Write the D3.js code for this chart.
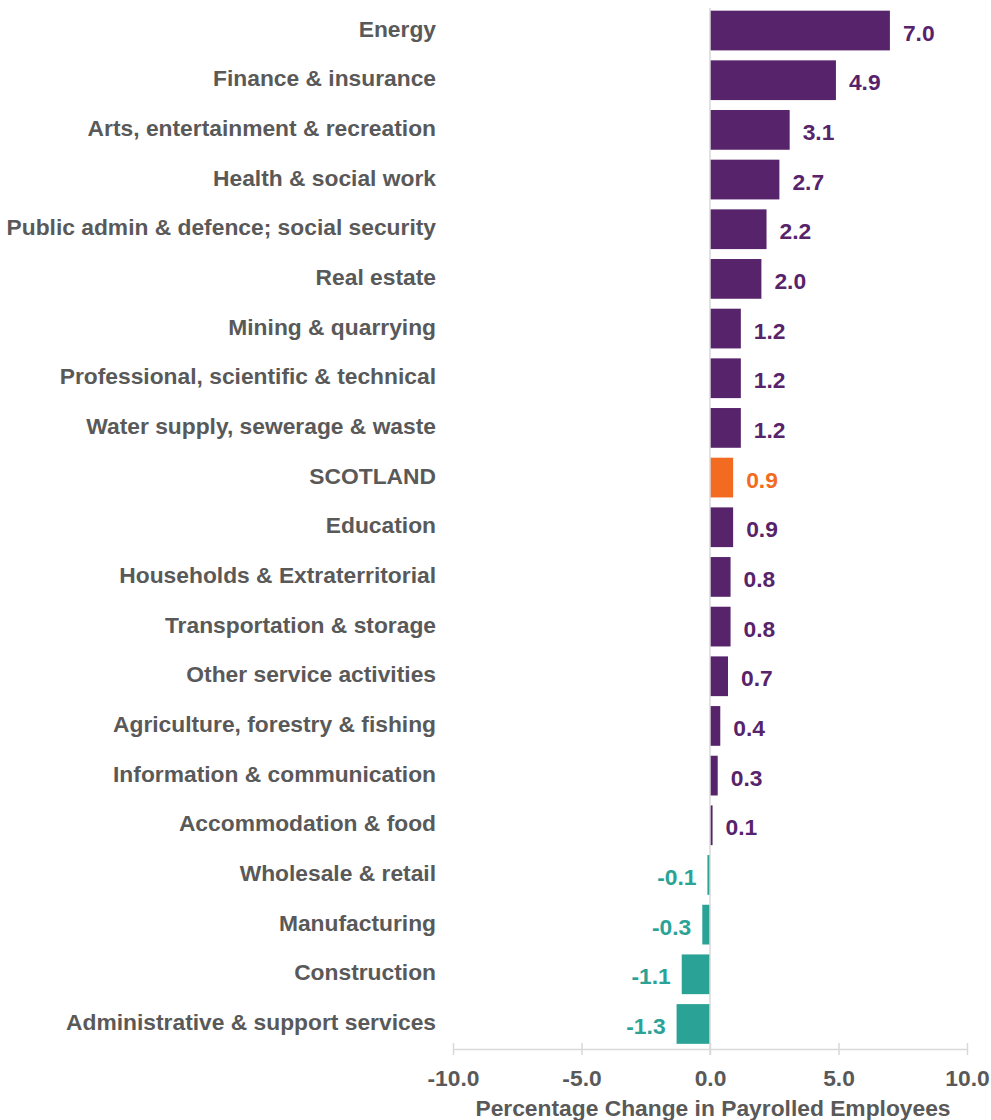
<!DOCTYPE html>
<html>
<head>
<meta charset="utf-8">
<script src="https://cdn.jsdelivr.net/npm/d3@7"></script>
<style>
  html, body { margin: 0; padding: 0; background: #fff; }
  svg { display: block; }
  text { font-family: "Liberation Sans", Arial, sans-serif; font-weight: bold; }
</style>
</head>
<body>
<svg id="chart" width="991" height="1120"></svg>
<script>
// Industry sectors, ordered from largest to smallest change
const categories = [
  "Energy",
  "Finance & insurance",
  "Arts, entertainment & recreation",
  "Health & social work",
  "Public admin & defence; social security",
  "Real estate",
  "Mining & quarrying",
  "Professional, scientific & technical",
  "Water supply, sewerage & waste",
  "SCOTLAND",
  "Education",
  "Households & Extraterritorial",
  "Transportation & storage",
  "Other service activities",
  "Agriculture, forestry & fishing",
  "Information & communication",
  "Accommodation & food",
  "Wholesale & retail",
  "Manufacturing",
  "Construction",
  "Administrative & support services"
];

// Percentage change in payrolled employees
const values = [7.0, 4.9, 3.1, 2.7, 2.2, 2.0, 1.2, 1.2, 1.2, 0.9, 0.9, 0.8, 0.8, 0.7, 0.4, 0.3, 0.1, -0.1, -0.3, -1.1, -1.3];

const xTicks = [-10, -5, 0, 5, 10];
const xTitle = "Percentage Change in Payrolled Employees";
const highlight = "SCOTLAND";

const colPos = "#57236b";
const colNeg = "#2aa396";
const colHi = "#f26b21";
const colText = "#595959";
const colAxis = "#d9d9d9";
const fontSize = 22.8;

// one decimal place, plain hyphen for negatives
const fmt = v => d3.format(".1f")(v).replace("\u2212", "-");

const data = categories.map((c, i) => ({ cat: c, val: values[i] }));

const svg = d3.select("#chart");

const x = d3.scaleLinear().domain([-10, 10]).range([453, 967]);
const y = d3.scaleBand().domain(categories).range([5.7, 1048.8]).paddingInner(0.2).paddingOuter(0.1);

const colour = d => d.cat === highlight ? colHi : (d.val < 0 ? colNeg : colPos);

// Bars
svg.append("g").selectAll("rect")
  .data(data)
  .join("rect")
  .attr("x", d => x(Math.min(0, d.val)))
  .attr("y", d => y(d.cat))
  .attr("width", d => Math.abs(x(d.val) - x(0)))
  .attr("height", y.bandwidth())
  .attr("fill", colour);

// Zero line
svg.append("line")
  .attr("x1", x(0)).attr("x2", x(0))
  .attr("y1", 8).attr("y2", 1055)
  .attr("stroke", colAxis).attr("stroke-width", 1.5);

// Value labels
svg.append("g").selectAll("text")
  .data(data)
  .join("text")
  .attr("x", d => d.val < 0 ? x(d.val) - 11 : x(d.val) + 13)
  .attr("y", d => y(d.cat) + y.bandwidth() / 2 + 2)
  .attr("dy", "0.35em")
  .attr("text-anchor", d => d.val < 0 ? "end" : "start")
  .attr("font-size", fontSize)
  .attr("fill", colour)
  .text(d => fmt(d.val));

// Category labels
svg.append("g").selectAll("text")
  .data(data)
  .join("text")
  .attr("x", 436)
  .attr("y", d => y(d.cat) + y.bandwidth() / 2 - 2)
  .attr("dy", "0.35em")
  .attr("text-anchor", "end")
  .attr("font-size", fontSize)
  .attr("fill", colText)
  .text(d => d.cat);

// X axis
const axis = svg.append("g")
  .attr("transform", "translate(0,1049)")
  .call(d3.axisBottom(x).tickValues(xTicks).tickSize(6).tickSizeOuter(0).tickFormat(fmt));
axis.select(".domain").attr("stroke", colAxis).attr("stroke-width", 1.5);
axis.selectAll(".tick line").attr("stroke", colAxis).attr("stroke-width", 1.5).attr("y1", -6);
axis.selectAll(".tick text")
  .attr("y", 21)
  .attr("font-size", fontSize)
  .attr("font-family", "Liberation Sans, Arial, sans-serif")
  .attr("font-weight", "bold")
  .attr("fill", colText);

// Axis title
svg.append("text")
  .attr("x", x(0) + 3)
  .attr("y", 1116)
  .attr("text-anchor", "middle")
  .attr("font-size", fontSize)
  .attr("fill", colText)
  .text(xTitle);
</script>
</body>
</html>
